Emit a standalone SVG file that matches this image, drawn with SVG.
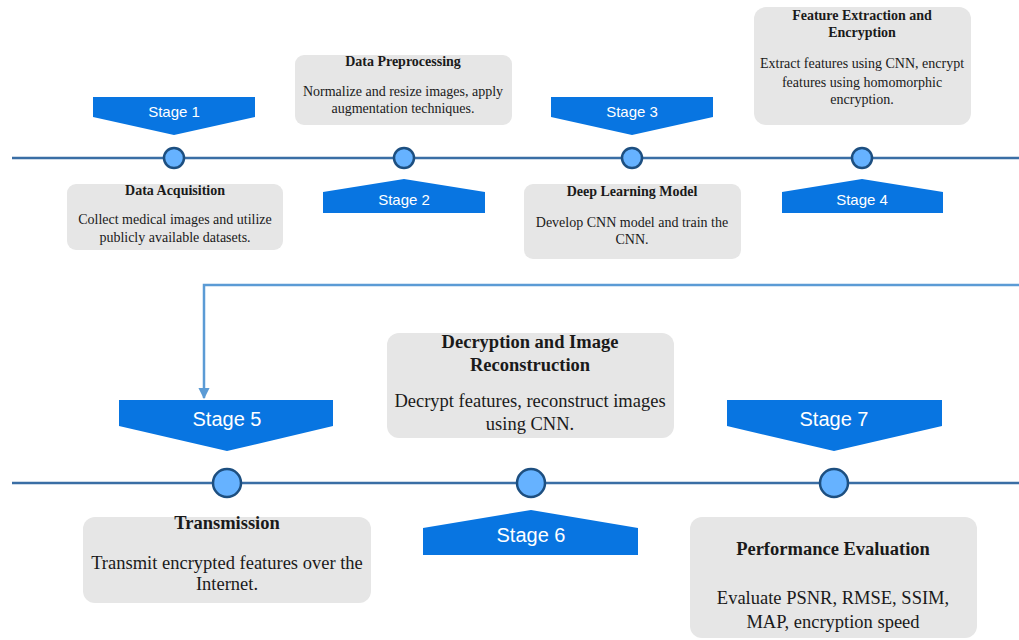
<svg xmlns="http://www.w3.org/2000/svg" width="1019" height="640" viewBox="0 0 1019 640">
<defs>
<style>
.tl{stroke:#3a6ea5;stroke-width:2.5;fill:none}
.dot{fill:#66b2ff;stroke:#1d4f80;stroke-width:2.5}
.ban{fill:#0875e1}
.bt{font-family:"Liberation Sans",Arial,sans-serif;fill:#fff;text-anchor:middle;dominant-baseline:central}
.box{fill:#e6e6e6}
.tt{font-family:"Liberation Serif","Times New Roman",serif;font-weight:bold;fill:#1a1a1a;text-anchor:middle}
.tx{font-family:"Liberation Serif","Times New Roman",serif;fill:#1a1a1a;text-anchor:middle}
.s{font-size:14px}
.l{font-size:18.5px}
.conn{stroke:#5b9bd5;stroke-width:2.5;fill:none}
</style>
<marker id="ah" viewBox="0 0 10 10" refX="9" refY="5" markerWidth="4.5" markerHeight="4.5" orient="auto" markerUnits="strokeWidth">
<path d="M0,0 L10,5 L0,10 z" fill="#5b9bd5"/>
</marker>
</defs>
<rect width="1019" height="640" fill="#fff"/>
<g id="timelines">
<line class="tl" x1="12" y1="158" x2="1019" y2="158"/>
<line class="tl" x1="12" y1="483" x2="1019" y2="483"/>
</g>
<g id="connectors">
<polyline class="conn" points="1019,285 204,285 204,398" marker-end="url(#ah)"/>
</g>
<g id="stage1">
<polygon class="ban" points="93,97 255,97 255,117 174,135 93,117"/>
<text class="bt" x="174" y="111" font-size="15">Stage 1</text>
<circle class="dot" cx="174" cy="158" r="10"/>
<rect class="box" x="67" y="184" width="216" height="66" rx="9"/>
<text class="tt s" x="175" y="195">Data Acquisition</text>
<text class="tx s" x="175" y="224">Collect medical images and utilize</text>
<text class="tx s" x="175" y="242">publicly available datasets.</text>
</g>
<g id="stage2">
<polygon class="ban" points="323,213 485,213 485,192 404,179 323,192"/>
<text class="bt" x="404" y="199" font-size="15">Stage 2</text>
<circle class="dot" cx="404" cy="158" r="10"/>
<rect class="box" x="295" y="55" width="217" height="70" rx="9"/>
<text class="tt s" x="403" y="66">Data Preprocessing</text>
<text class="tx s" x="403" y="96">Normalize and resize images, apply</text>
<text class="tx s" x="403" y="113">augmentation techniques.</text>
</g>
<g id="stage3">
<polygon class="ban" points="551,97 713,97 713,117 632,135 551,117"/>
<text class="bt" x="632" y="111" font-size="15">Stage 3</text>
<circle class="dot" cx="632" cy="158" r="10"/>
<rect class="box" x="524" y="184" width="217" height="75" rx="9"/>
<text class="tt s" x="632" y="196">Deep Learning Model</text>
<text class="tx s" x="632" y="227">Develop CNN model and train the</text>
<text class="tx s" x="632" y="244">CNN.</text>
</g>
<g id="stage4">
<polygon class="ban" points="782,213 943,213 943,192 862,179 782,192"/>
<text class="bt" x="862" y="199" font-size="15">Stage 4</text>
<circle class="dot" cx="862" cy="158" r="10"/>
<rect class="box" x="754" y="7" width="217" height="118" rx="12"/>
<text class="tt s" x="862" y="20">Feature Extraction and</text>
<text class="tt s" x="862" y="37">Encryption</text>
<text class="tx s" x="862" y="68">Extract features using CNN, encrypt</text>
<text class="tx s" x="862" y="87">features using homomorphic</text>
<text class="tx s" x="862" y="104">encryption.</text>
</g>
<g id="stage5">
<polygon class="ban" points="119,400 333,400 333,426 227,451 119,426"/>
<text class="bt" x="227" y="419" font-size="20">Stage 5</text>
<circle class="dot" cx="227" cy="483" r="14"/>
<rect class="box" x="83" y="517" width="288" height="86" rx="12"/>
<text class="tt l" x="227" y="529">Transmission</text>
<text class="tx l" x="227" y="569">Transmit encrypted features over the</text>
<text class="tx l" x="227" y="590">Internet.</text>
</g>
<g id="stage6">
<polygon class="ban" points="423,555 638,555 638,528 531,510 423,528"/>
<text class="bt" x="531" y="535" font-size="20">Stage 6</text>
<circle class="dot" cx="531" cy="483" r="14"/>
<rect class="box" x="387" y="333" width="287" height="105" rx="12"/>
<text class="tt l" x="530" y="348">Decryption and Image</text>
<text class="tt l" x="530" y="371">Reconstruction</text>
<text class="tx l" x="530" y="407">Decrypt features, reconstruct images</text>
<text class="tx l" x="530" y="430">using CNN.</text>
</g>
<g id="stage7">
<polygon class="ban" points="727,400 942,400 942,426 834,451 727,426"/>
<text class="bt" x="834" y="419" font-size="20">Stage 7</text>
<circle class="dot" cx="834" cy="483" r="14"/>
<rect class="box" x="690" y="517" width="287" height="121" rx="12"/>
<text class="tt l" x="833" y="555">Performance Evaluation</text>
<text class="tx l" x="833" y="604">Evaluate PSNR, RMSE, SSIM,</text>
<text class="tx l" x="833" y="628">MAP, encryption speed</text>
</g>
</svg>
